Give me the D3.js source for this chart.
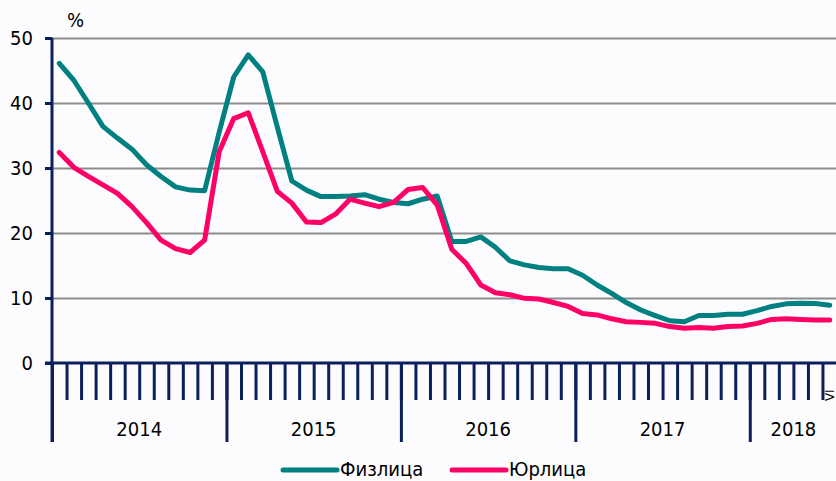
<!DOCTYPE html>
<html>
<head>
<meta charset="utf-8">
<script src="https://cdn.jsdelivr.net/npm/d3@7"></script>
<style>
  html, body { margin: 0; padding: 0; background: #fcfcfe; }
  svg { display: block; }
  text { font-family: "DejaVu Sans Condensed", "DejaVu Sans", sans-serif; fill: #000; }
</style>
</head>
<body>
<svg id="chart"></svg>
<script>
// monthly data, Jan 2014 .. Jun 2018
var years = ["2014", "2015", "2016", "2017", "2018"];
var monthsPerYear = [12, 12, 12, 12, 6];
var lastMonthLabel = "VI";
var yTicks = [0, 10, 20, 30, 40, 50];

var fizlica = [
  46.1, 43.5, 40.0, 36.4, 34.6, 32.9, 30.5, 28.7, 27.1, 26.6, 26.5, 35.5,
  44.0, 47.4, 44.8, 36.3, 28.0, 26.6, 25.6, 25.6, 25.7, 25.9, 25.2, 24.7,
  24.5, 25.2, 25.7, 18.7, 18.7, 19.4, 17.8, 15.7, 15.1, 14.7, 14.5, 14.5,
  13.5, 12.0, 10.7, 9.3, 8.15, 7.3, 6.5, 6.35, 7.3, 7.3, 7.5, 7.5,
  8.05, 8.7, 9.1, 9.2, 9.15, 8.9
];
var yurlica = [
  32.4, 30.1, 28.7, 27.4, 26.1, 24.05, 21.6, 18.9, 17.6, 17.0, 18.9, 32.5,
  37.6, 38.5, 32.5, 26.4, 24.6, 21.7, 21.6, 22.9, 25.2, 24.6, 24.05, 24.7,
  26.7, 27.0, 24.3, 17.5, 15.3, 12.0, 10.8, 10.5, 9.95, 9.85, 9.3, 8.7,
  7.6, 7.4, 6.8, 6.35, 6.25, 6.1, 5.6, 5.35, 5.45, 5.35, 5.6, 5.7,
  6.1, 6.7, 6.8, 6.7, 6.6, 6.6
];
var seriesNames = ["Физлица", "Юрлица"];
var seriesColors = ["#008080", "#ff0066"];

var W = 836, H = 481;
var margin = {top: 38, right: 0, bottom: 118, left: 52};
var plotRight = 837;
var axisColor = "#0a1f5c";

var svg = d3.select("#chart").attr("width", W).attr("height", H);

var nMonths = d3.sum(monthsPerYear);
var x = d3.scaleLinear().domain([0, nMonths]).range([margin.left, plotRight]);
var y = d3.scaleLinear().domain([0, 50]).range([H - margin.bottom, margin.top]);

// grid lines
svg.append("g")
  .attr("transform", "translate(" + margin.left + ",0)")
  .call(d3.axisLeft(y).tickValues(yTicks.slice(1)).tickSize(-(W - margin.left)).tickFormat(""))
  .call(function(g){
    g.select(".domain").remove();
    g.selectAll("line").attr("stroke", "#8c8c8c").attr("stroke-width", 2);
  });

// month boundary ticks (short) and year boundary ticks (long)
var monthBounds = d3.range(1, nMonths + 1);
var yearBounds = [0];
monthsPerYear.forEach(function(m, i){ yearBounds.push(yearBounds[i] + m); });
yearBounds = yearBounds.slice(0, years.length);

svg.append("g")
  .attr("transform", "translate(0," + y(0) + ")")
  .call(d3.axisBottom(x).tickValues(monthBounds).tickSize(37).tickFormat(""))
  .call(function(g){
    g.select(".domain").remove();
    g.selectAll("line").attr("stroke", axisColor).attr("stroke-width", 3);
  });

svg.append("g")
  .attr("transform", "translate(0," + y(0) + ")")
  .call(d3.axisBottom(x).tickValues(yearBounds).tickSize(79).tickFormat(""))
  .call(function(g){
    g.select(".domain").remove();
    g.selectAll("line").attr("stroke", axisColor).attr("stroke-width", 3);
  });

// year labels centred under each year
var yearCenters = years.map(function(yr, i){ return yearBounds[i] + monthsPerYear[i] / 2; });
svg.selectAll(".yearlabel")
  .data(years)
  .enter().append("text")
  .attr("class", "yearlabel")
  .attr("x", function(d, i){ return x(yearCenters[i]); })
  .attr("y", 436)
  .attr("text-anchor", "middle")
  .attr("font-size", 20)
  .text(function(d){ return d; });

// last month label, rotated, tucked against the right edge
svg.append("text")
  .attr("transform", "translate(" + (W - 2) + ",401) rotate(-90)")
  .attr("font-size", 13)
  .text(lastMonthLabel);

// y axis
svg.append("g")
  .attr("transform", "translate(" + margin.left + ",0)")
  .call(d3.axisLeft(y).tickValues(yTicks).tickSize(7).tickPadding(12).tickSizeOuter(0))
  .call(function(g){
    g.select(".domain").attr("stroke", axisColor).attr("stroke-width", 3)
      .attr("d", "M0," + y(50) + "V442");
    g.selectAll("line").attr("stroke", axisColor).attr("stroke-width", 3);
    g.selectAll("text").attr("font-size", 20)
      .attr("font-family", "\"DejaVu Sans Condensed\", \"DejaVu Sans\", sans-serif");
  });

// x axis line
svg.append("line")
  .attr("x1", margin.left - 7).attr("x2", W)
  .attr("y1", y(0)).attr("y2", y(0))
  .attr("stroke", axisColor).attr("stroke-width", 3);

svg.append("text")
  .attr("x", 67).attr("y", 27)
  .attr("font-size", 20)
  .text("%");

// lines
var line = d3.line()
  .x(function(d, i){ return x(i + 0.5); })
  .y(function(d){ return y(d); });

[fizlica, yurlica].forEach(function(s, k){
  svg.append("path")
    .datum(s)
    .attr("fill", "none")
    .attr("stroke", seriesColors[k])
    .attr("stroke-width", 5)
    .attr("stroke-linejoin", "round")
    .attr("stroke-linecap", "round")
    .attr("d", line);
});

// legend
var legendX = [283, 452];
seriesNames.forEach(function(name, k){
  var g = svg.append("g").attr("transform", "translate(" + legendX[k] + ",470)");
  g.append("line")
    .attr("x1", 0).attr("x2", 54)
    .attr("stroke", seriesColors[k]).attr("stroke-width", 5)
    .attr("stroke-linecap", "round");
  g.append("text")
    .attr("x", 57).attr("y", 6)
    .attr("font-size", 20)
    .text(name);
});
</script>
</body>
</html>
